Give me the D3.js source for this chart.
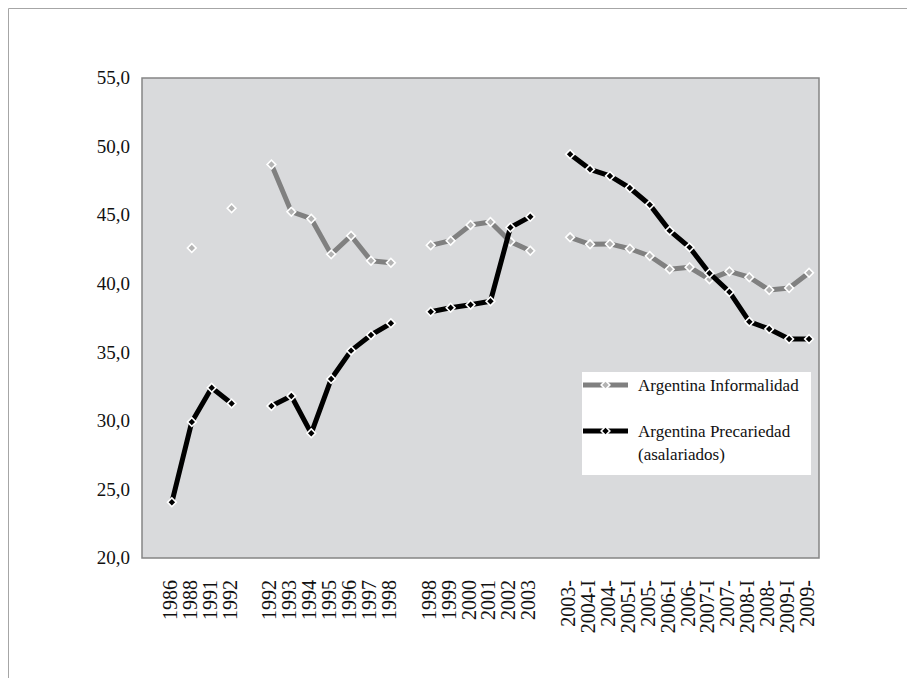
<!DOCTYPE html>
<html>
<head>
<meta charset="utf-8">
<script src="https://cdn.jsdelivr.net/npm/d3@7"></script>
<style>
  html, body { margin: 0; padding: 0; background: #fff; }
  svg { display: block; }
  text { font-family: "Liberation Serif", "DejaVu Serif", serif; fill: #111; }
</style>
</head>
<body>
<script>
// ---- data ----
const categories = ["", "1986", "1988", "1991", "1992", "",
  "1992", "1993", "1994", "1995", "1996", "1997", "1998", "",
  "1998", "1999", "2000", "2001", "2002", "2003", "",
  "2003-", "2004-I", "2004-", "2005-I", "2005-", "2006-I", "2006-",
  "2007-I", "2007-", "2008-I", "2008-", "2009-I", "2009-"];

const informalidad = [null, null, 42.6, null, 45.5, null,
  48.7, 45.25, 44.74, 42.14, 43.5, 41.68, 41.53, null,
  42.8, 43.14, 44.28, 44.5, 43.07, 42.41, null,
  43.38, 42.87, 42.9, 42.55, 42.02, 41.05, 41.2, 40.32, 40.9, 40.47, 39.54, 39.69, 40.8];

const precariedad = [null, 24.06, 29.92, 32.42, 31.27, null,
  31.08, 31.81, 29.09, 33.05, 35.12, 36.26, 37.11, null,
  37.96, 38.25, 38.47, 38.72, 44.1, 44.89, null,
  49.44, 48.34, 47.86, 46.98, 45.76, 43.87, 42.65, 40.76, 39.4, 37.23, 36.7, 35.97, 35.97];

const yTicks = [20, 25, 30, 35, 40, 45, 50, 55];

const seriesNames = ["Argentina Informalidad", "Argentina Precariedad", "(asalariados)"];

// ---- layout ----
const W = 907, H = 678;
const plot = { left: 142, right: 819, top: 78, bottom: 558 };

const svg = d3.select("body").append("svg").attr("width", W).attr("height", H);

// outer frame (top & left)
svg.append("line").attr("x1", 8.5).attr("x2", W).attr("y1", 8.5).attr("y2", 8.5)
  .attr("stroke", "#a6a6a6").attr("stroke-width", 1);
svg.append("line").attr("x1", 8.5).attr("x2", 8.5).attr("y1", 8.5).attr("y2", H)
  .attr("stroke", "#a6a6a6").attr("stroke-width", 1);

const x = d3.scaleBand().domain(d3.range(categories.length))
  .range([plot.left, plot.right]).paddingInner(0).paddingOuter(0);
const cx = i => x(i) + x.bandwidth() / 2;
const y = d3.scaleLinear().domain([20, 55]).range([plot.bottom, plot.top]);

// plot background
svg.append("rect").attr("x", plot.left).attr("y", plot.top)
  .attr("width", plot.right - plot.left).attr("height", plot.bottom - plot.top)
  .attr("fill", "#d9dadc").attr("stroke", "#858585").attr("stroke-width", 1.5);

// y axis labels
const fmt = v => d3.format(".1f")(v).replace(".", ",");
svg.append("g").selectAll("text").data(yTicks).join("text")
  .attr("x", 130).attr("y", d => y(d)).attr("dy", "0.33em")
  .attr("text-anchor", "end").attr("font-size", 19).text(fmt);

// x axis labels (rotated)
svg.append("g").selectAll("text").data(categories.map((c, i) => ({ c, i })).filter(d => d.c !== ""))
  .join("text")
  .attr("transform", d => `translate(${cx(d.i) - 2},580) rotate(-90)`)
  .attr("dy", "0.35em").attr("text-anchor", "end").attr("font-size", 20)
  .text(d => d.c);

// diamond marker: square rotated 45 degrees
const diamond = d3.symbol().type(d3.symbolSquare).size(38);

function drawSeries(values, lineColor, markerFill) {
  const pts = values.map((v, i) => ({ v, i }));
  const line = d3.line().defined(d => d.v != null).x(d => cx(d.i)).y(d => y(d.v));
  svg.append("path").datum(pts).attr("d", line).attr("fill", "none")
    .attr("stroke", lineColor).attr("stroke-width", 5).attr("stroke-linejoin", "round");
  svg.append("g").selectAll("path").data(pts.filter(d => d.v != null)).join("path")
    .attr("transform", d => `translate(${cx(d.i)},${y(d.v)}) rotate(45)`)
    .attr("d", diamond).attr("fill", markerFill).attr("stroke", "#fff").attr("stroke-width", 1.6);
}

drawSeries(informalidad, "#808080", "#b3b3b3");
drawSeries(precariedad, "#000000", "#000000");

// legend
const lg = svg.append("g");
lg.append("rect").attr("x", 582).attr("y", 372).attr("width", 229).attr("height", 103).attr("fill", "#fff");
const legendItems = [
  { color: "#808080", fill: "#b3b3b3", y: 385, lines: [seriesNames[0]] },
  { color: "#000000", fill: "#000000", y: 431, lines: [seriesNames[1], seriesNames[2]] }
];
legendItems.forEach(it => {
  lg.append("line").attr("x1", 583).attr("x2", 628).attr("y1", it.y).attr("y2", it.y)
    .attr("stroke", it.color).attr("stroke-width", 5);
  lg.append("path").attr("d", diamond).attr("transform", `translate(605.5,${it.y}) rotate(45)`)
    .attr("fill", it.fill).attr("stroke", "#fff").attr("stroke-width", 1.6);
  it.lines.forEach((t, k) => {
    lg.append("text").attr("x", 638).attr("y", it.y + 6 + k * 23)
      .attr("font-size", 17).text(t);
  });
});
</script>
</body>
</html>
